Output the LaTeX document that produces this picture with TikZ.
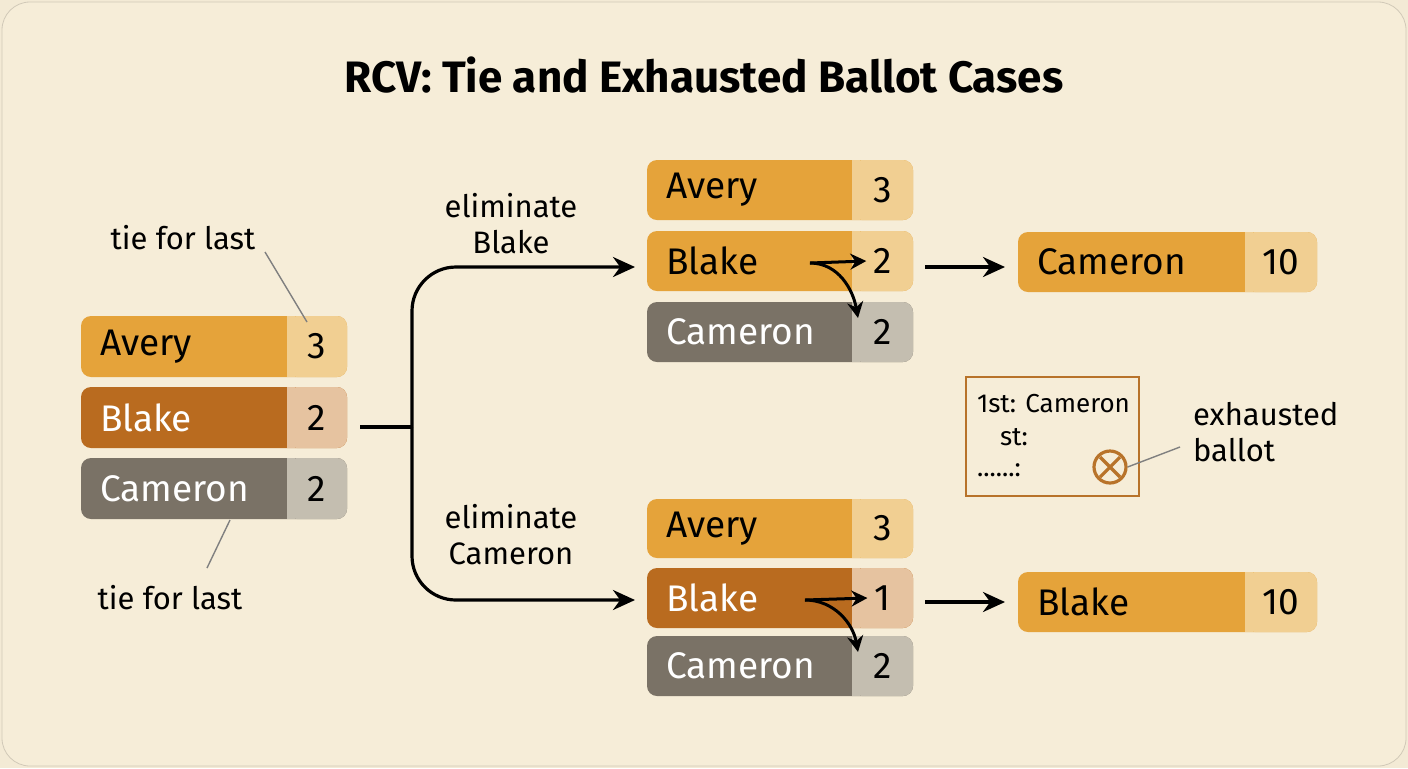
\documentclass[tikz,border=0pt]{standalone}
\usepackage{fontspec}
\setmainfont{Fira Sans}
\usetikzlibrary{arrows.meta,calc}
\definecolor{bg}{HTML}{F6EDD8}
\definecolor{org}{HTML}{E5A33A}
\definecolor{orgl}{HTML}{F1CF92}
\definecolor{dorg}{HTML}{B96B1F}
\definecolor{dorgl}{HTML}{E6C3A0}
\definecolor{gry}{HTML}{7A7266}
\definecolor{gryl}{HTML}{C4BEB0}
\definecolor{brn}{HTML}{B8732A}
\begin{document}
\begin{tikzpicture}[x=0.5pt,y=-0.5pt,
  lab/.style={font=\fontsize{15.5}{18}\selectfont,text=black},
  arr/.style={-{Stealth[length=11pt,width=10pt]},line width=1.6pt},
  sarr/.style={-{Stealth[length=8pt,width=8pt]},line width=1.5pt}]
\useasboundingbox (0,0) rectangle (1408,768);
\fill[bg!96!black!30!bg] (0,0) rectangle (1408,768);
\draw[fill=bg,draw=bg!85!black,rounded corners=14pt] (2,2) rectangle (1406,766);
\node[font=\fontsize{22}{26}\selectfont\bfseries] (title) at (704,75) {RCV: Tie and Exhausted Ballot Cases};
\newcommand{\vrow}[9]{%
 \fill[#7,rounded corners=5pt] (#2,#5) rectangle (#4,#6);
 \fill[#8,rounded corners=5pt] (#3,#5) rectangle (#4,#6);
 \fill[#8] (#3,#5) rectangle ({#3+8},#6);
 \node[anchor=west,font=\fontsize{18.5}{22}\selectfont,text=#9] (#1) at ({#2+12},{(#5+#6)/2}) {\vlabel};
 \node[font=\fontsize{18.5}{22}\selectfont] (#1n) at ({(#3+#4)/2},{(#5+#6)/2}) {\vnum};}
\def\vlabel{Avery}\def\vnum{3}\vrow{la}{81}{287}{347}{316}{377}{org}{orgl}{black}
\def\vlabel{Blake}\def\vnum{2}\vrow{lb}{81}{287}{347}{387}{448}{dorg}{dorgl}{white}
\def\vlabel{Cameron}\def\vnum{2}\vrow{lc}{81}{287}{347}{458}{519}{gry}{gryl}{white}
\def\vlabel{Avery}\def\vnum{3}\vrow{ta}{647}{852}{913}{160}{220}{org}{orgl}{black}
\def\vlabel{Blake}\def\vnum{2}\vrow{tb}{647}{852}{913}{231}{291}{org}{orgl}{black}
\def\vlabel{Cameron}\def\vnum{2}\vrow{tc}{647}{852}{913}{302}{362}{gry}{gryl}{white}
\def\vlabel{Avery}\def\vnum{3}\vrow{ba}{647}{852}{913}{499}{558}{org}{orgl}{black}
\def\vlabel{Blake}\def\vnum{1}\vrow{bb}{647}{852}{913}{568}{628}{dorg}{dorgl}{white}
\def\vlabel{Cameron}\def\vnum{2}\vrow{bc}{647}{852}{913}{636}{696}{gry}{gryl}{white}
\def\vlabel{Cameron}\def\vnum{10}\vrow{rt}{1018}{1245}{1317}{232}{292}{org}{orgl}{black}
\def\vlabel{Blake}\def\vnum{10}\vrow{rb}{1018}{1245}{1317}{572}{632}{org}{orgl}{black}
\coordinate (j) at (412,427);
\coordinate (tin) at (635,267);
\coordinate (bin) at (635,600);
\draw[line width=1.6pt] (360,427) -- (j);
\draw[arr,rounded corners=22pt] (j) |- (tin);
\draw[arr,rounded corners=22pt] (j) |- (bin);
\node[lab,align=center] (e1) at (511,224) {eliminate\\Blake};
\node[lab,align=center] (e2) at (511,535) {eliminate\\Cameron};
\coordinate (t1) at (925,267); \coordinate (t2) at (1005,267);
\coordinate (b1) at (925,602); \coordinate (b2) at (1005,602);
\draw[arr] (t1) -- (t2);
\draw[arr] (b1) -- (b2);
\coordinate (ts) at (810,263);
\draw[sarr] (ts) -- (tbn.west);
\draw[sarr] (ts) to[out=0,in=100] (858,318);
\coordinate (bs) at (805,600);
\draw[sarr] (bs) -- (bbn.west);
\draw[sarr] (bs) to[out=0,in=100] (858,652);
\node[lab] (tl1) at (183,238) {tie for last};
\draw[gray,line width=0.7pt] (265,252) -- (307,322);
\node[lab] (tl2) at (170,598) {tie for last};
\draw[gray,line width=0.7pt] (230,520) -- (207,568);
\draw[brn,line width=1.2pt,fill=bg] (966,377) rectangle (1139,496);
\node[anchor=west,font=\fontsize{13}{15}\selectfont] (b1t) at (970,404) {1st: Cameron};
\node[anchor=west,font=\fontsize{13}{15}\selectfont] (b2t) at (993,437) {st:};
\node[anchor=west,font=\fontsize{13}{15}\selectfont] (b3t) at (970,470) {......:};
\node[circle,draw=brn,line width=1.6pt,minimum size=16pt] (x) at (1110,467) {};
\draw[brn,line width=1.6pt] ($(x)+(-10,-10)$) -- ($(x)+(10,10)$) ($(x)+(-10,10)$) -- ($(x)+(10,-10)$);
\node[lab,anchor=west,align=left] (ex) at (1186,432) {exhausted\\ballot};
\draw[gray,line width=0.7pt] (x.east) -- (1180,447);
\end{tikzpicture}
\end{document}
